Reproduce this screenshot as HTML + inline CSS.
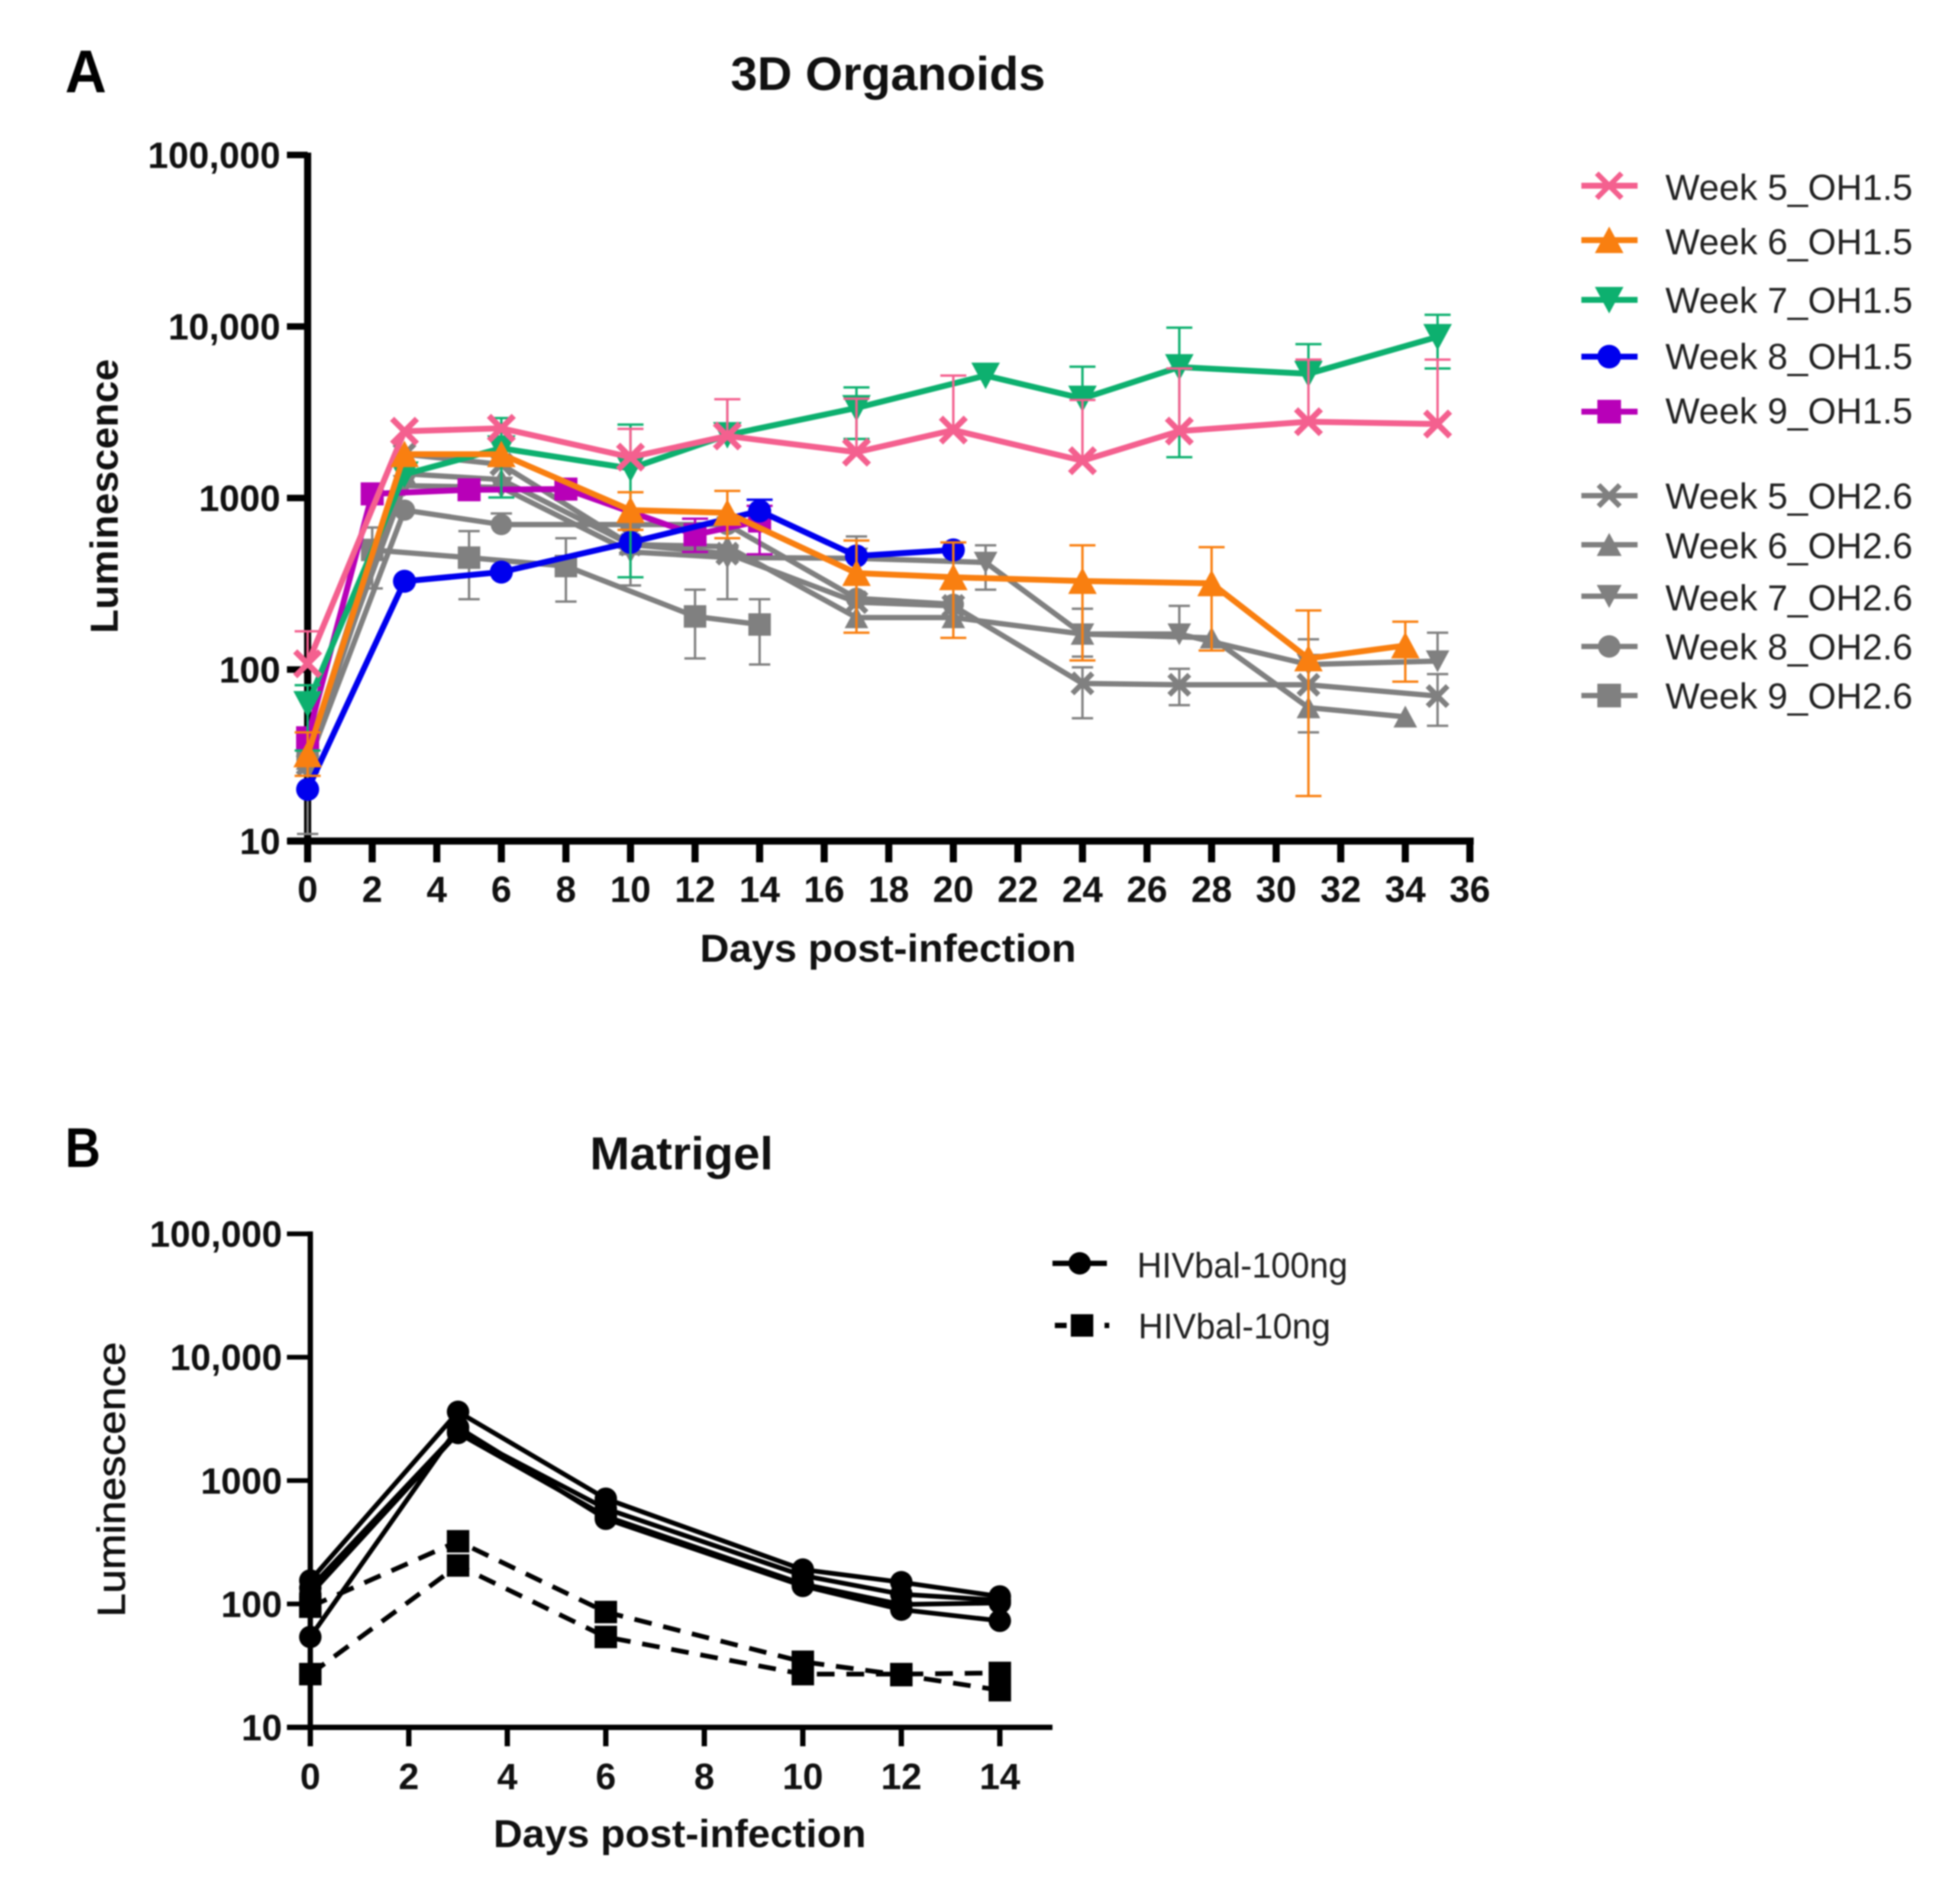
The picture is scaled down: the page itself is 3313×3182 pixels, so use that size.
<!DOCTYPE html>
<html lang="en">
<head>
<meta charset="utf-8">
<title>3D Organoids and Matrigel luminescence charts</title>
<style>
html,body{margin:0;padding:0;background:#fff;width:3313px;height:3182px;overflow:hidden}
svg{display:block;filter:blur(1.4px)}
text{font-family:"Liberation Sans",Arial,sans-serif}
</style>
</head>
<body>
<svg id="figure" xmlns="http://www.w3.org/2000/svg" width="3313" height="3182" viewBox="0 0 3313 3182">
  <rect width="3313" height="3182" fill="#fff"/>
  <text x="110" y="156" font-size="102" font-weight="700" fill="#000" textLength="70" lengthAdjust="spacingAndGlyphs">A</text>
  <text x="1235" y="152" font-size="80" font-weight="700" fill="#111" textLength="532" lengthAdjust="spacingAndGlyphs">3D Organoids</text>
  <text transform="translate(199,1071) rotate(-90)" font-size="66" font-weight="700" fill="#111" textLength="464" lengthAdjust="spacingAndGlyphs">Luminescence</text>
  <text x="1183" y="1626" font-size="66" font-weight="700" fill="#111" textLength="636" lengthAdjust="spacingAndGlyphs">Days post-infection</text>
  <text x="110" y="1973" font-size="95" font-weight="700" fill="#000" textLength="60" lengthAdjust="spacingAndGlyphs">B</text>
  <text x="997" y="1977" font-size="78" font-weight="700" fill="#111" textLength="310" lengthAdjust="spacingAndGlyphs">Matrigel</text>
  <text transform="translate(211,2734) rotate(-90)" font-size="66" fill="#111" stroke="#111" stroke-width="1" textLength="465" lengthAdjust="spacingAndGlyphs">Luminescence</text>
  <text x="834" y="3123" font-size="66" font-weight="700" fill="#111" textLength="630" lengthAdjust="spacingAndGlyphs">Days post-infection</text>
  <g id="chart-a"></g>
  <g id="chart-b"></g>
</svg>
<script>
/* ---------- Panel A data ---------- */
const xTicksA = [0,2,4,6,8,10,12,14,16,18,20,22,24,26,28,30,32,34,36];
const yTicksValues = [10,100,1000,10000,100000];
const yTickLabels = ['10','100','1000','10,000','100,000'];

const w5o15Days  = [0,3,6,10,13,17,20,24,27,31,35];
const w5o15Vals  = [108,2450,2550,1730,2300,1850,2490,1650,2455,2785,2700];
const w5o15Upper = [167,null,null,2530,3767,3793,5175,3730,5690,6410,6410];
const w5o15Lower = [null,null,null,null,null,null,null,null,null,null,null];

const w6o15Days  = [0,3,6,10,13,17,20,24,28,31,34];
const w6o15Vals  = [32,1800,1800,850,820,365,345,328,318,116,138];
const w6o15Upper = [43,null,null,1081,1100,565,551,530,517,221,190];
const w6o15Lower = [24,null,null,652,583,164,153,113,129,18.3,85];

const w7o15Days  = [0,3,6,10,13,17,21,24,27,31,35];
const w7o15Vals  = [63,1374,1950,1486,2330,3350,5175,3800,5800,5300,8700];
const w7o15Upper = [81,null,2924,2680,3767,4415,null,5830,9840,7890,11700];
const w7o15Lower = [33.7,null,1007,345,null,2210,null,null,1730,null,5690];

const w8o15Days  = [0,3,6,10,14,17,20];
const w8o15Vals  = [20,327,370,551,840,459,498];
const w8o15Upper = [null,null,null,null,977,null,null];
const w8o15Lower = [null,null,null,null,null,null,null];

const w9o15Days  = [0,2,5,8,12,14];
const w9o15Vals  = [40,1057,1117,1127,611,734];
const w9o15Upper = [null,null,null,null,757,900];
const w9o15Lower = [null,null,null,null,485,470];

const w5o26Days  = [0,3,6,10,13,17,20,24,27,31,35];
const w5o26Vals  = [28,1800,1570,535,474,247,235,83,81.5,81.5,70];
const w5o26Upper = [null,null,null,null,769,null,null,103,101,150,94];
const w5o26Lower = [null,null,null,null,257,null,null,52,62,43,47];

const w6o26Days  = [0,3,6,10,13,17,20,24,28,31,34];
const w6o26Vals  = [30,1384,1280,535,521,201,201,161,153,60,53];
const w6o26Upper = [null,null,null,null,null,null,null,226,null,null,null];
const w6o26Lower = [11,null,null,null,null,null,null,119,null,null,null];

const w7o26Days  = [0,3,6,10,13,17,21,24,27,31,35];
const w7o26Vals  = [35,1180,1153,485,450,445,421,161,161,107,112];
const w7o26Upper = [null,null,null,null,null,null,530,null,235,null,164];
const w7o26Lower = [null,null,null,309,null,null,292,null,null,null,null];

const w8o26Days  = [0,3,6,10,13,17,20];
const w8o26Vals  = [28,850,700,700,700,260,240];
const w8o26Upper = [null,null,813,null,null,597,null];
const w8o26Lower = [null,null,null,null,null,null,null];

const w9o26Days  = [0,2,5,8,12,14];
const w9o26Vals  = [32,498,449,401,204,183];
const w9o26Upper = [null,673,641,583,292,257];
const w9o26Lower = [null,297,257,249,116,107];

const legendLabelsA = ['Week 5_OH1.5','Week 6_OH1.5','Week 7_OH1.5','Week 8_OH1.5','Week 9_OH1.5','Week 5_OH2.6','Week 6_OH2.6','Week 7_OH2.6','Week 8_OH2.6','Week 9_OH2.6'];

/* ---------- Panel B data ---------- */
const xTicksB = [0,2,4,6,8,10,12,14];
const matrigelDays = [0,3,6,10,12,14];
const hi100ngRep1 = [155,3610,713,190,150,115];
const hi100ngRep2 = [135,2500,592,170,120,107];
const hi100ngRep3 = [120,2430,513,145,99,102];
const hi100ngRep4 = [54,2700,490,140,90,73];
const hi10ngRep1  = [95,322,86,34,26.5,20];
const hi10ngRep2  = [27,205,54,27,27,27.6];
const legendLabelsB = ['HIVbal-100ng','HIVbal-10ng'];

/* ---------- Axis functions ---------- */
function xA(d){ return 520 + 54.57 * d; }
function yA(v){ return 1422 - 290 * (Math.log10(v) - 1); }
function xB(d){ return 524.5 + 83.25 * d; }
function yB(v){ return 2920.5 - 208.6 * (Math.log10(v) - 1); }

const NS = 'http://www.w3.org/2000/svg';
function mk(tag, attrs, parent){
  const el = document.createElementNS(NS, tag);
  for (const k in attrs) el.setAttribute(k, attrs[k]);
  parent.appendChild(el);
  return el;
}

function drawMarker(parent, shape, cx, cy, r, color, sw){
  let el;
  if (shape === 'x'){
    el = mk('path', {d:`M${cx-r} ${cy-r}L${cx+r} ${cy+r}M${cx-r} ${cy+r}L${cx+r} ${cy-r}`, stroke:color, 'stroke-width':sw, fill:'none'}, parent);
  } else if (shape === 'up'){
    el = mk('polygon', {points:`${cx},${cy-r} ${cx+r*1.05},${cy+r*0.95} ${cx-r*1.05},${cy+r*0.95}`, fill:color}, parent);
  } else if (shape === 'down'){
    el = mk('polygon', {points:`${cx},${cy+r} ${cx+r*1.05},${cy-r*0.95} ${cx-r*1.05},${cy-r*0.95}`, fill:color}, parent);
  } else if (shape === 'circle'){
    el = mk('circle', {cx:cx, cy:cy, r:r, fill:color}, parent);
  } else {
    el = mk('rect', {x:cx-r, y:cy-r, width:2*r, height:2*r, fill:color}, parent);
  }
  
  
  return el;
}

function drawAxes(root, cfg){
  const axisX = mk('line', {x1:cfg.xLeft, x2:cfg.xRight, y1:cfg.yAxis, y2:cfg.yAxis, stroke:'#000', 'stroke-width':cfg.sw}, root);
  
  
  const axisY = mk('line', {x1:cfg.xAxis, x2:cfg.xAxis, y1:cfg.yTop, y2:cfg.yAxis + cfg.xTickLen, stroke:'#000', 'stroke-width':cfg.sw}, root);
  
  
  cfg.xTicks.forEach(function(d){
    const t = mk('line', {x1:cfg.x(d), x2:cfg.x(d), y1:cfg.yAxis, y2:cfg.yAxis + cfg.xTickLen, stroke:'#000', 'stroke-width':cfg.tickSw}, root);
    
    
    const l = mk('text', {x:cfg.x(d), y:cfg.xLabelY, 'font-size':62, 'font-weight':700, 'text-anchor':'middle', fill:'#111'}, root);
    l.textContent = String(d);
    
    
  });
  yTicksValues.forEach(function(v, i){
    const t = mk('line', {x1:cfg.yTickLeft, x2:cfg.xAxis, y1:cfg.y(v), y2:cfg.y(v), stroke:'#000', 'stroke-width':cfg.tickSwY}, root);
    
    
    const l = mk('text', {x:cfg.yLabelX, y:cfg.y(v) + 22, 'font-size':62, 'font-weight':700, 'text-anchor':'end', fill:'#111'}, root);
    l.textContent = yTickLabels[i];
    
    
  });
}

/* ---------- Draw panel A ---------- */
const PINK='#F4608F', ORANGE='#F97F10', GREEN='#0DB06F', BLUE='#0000EE', MAGENTA='#B800B8', GRAY='#808080';
const seriesA = [
  {days:w9o26Days,vals:w9o26Vals,up:w9o26Upper,lo:w9o26Lower,color:GRAY,shape:'square',r:19,lw:9,gray:true},
  {days:w8o26Days,vals:w8o26Vals,up:w8o26Upper,lo:w8o26Lower,color:GRAY,shape:'circle',r:18,lw:9,gray:true},
  {days:w7o26Days,vals:w7o26Vals,up:w7o26Upper,lo:w7o26Lower,color:GRAY,shape:'down',r:19,lw:9,gray:true},
  {days:w6o26Days,vals:w6o26Vals,up:w6o26Upper,lo:w6o26Lower,color:GRAY,shape:'up',r:19,lw:9,gray:true},
  {days:w5o26Days,vals:w5o26Vals,up:w5o26Upper,lo:w5o26Lower,color:GRAY,shape:'x',r:17,lw:9,gray:true},
  {days:w9o15Days,vals:w9o15Vals,up:w9o15Upper,lo:w9o15Lower,color:MAGENTA,shape:'square',r:19.5,lw:10},
  {days:w8o15Days,vals:w8o15Vals,up:w8o15Upper,lo:w8o15Lower,color:BLUE,shape:'circle',r:19.5,lw:10},
  {days:w7o15Days,vals:w7o15Vals,up:w7o15Upper,lo:w7o15Lower,color:GREEN,shape:'down',r:23,lw:10},
  {days:w5o15Days,vals:w5o15Vals,up:w5o15Upper,lo:w5o15Lower,color:PINK,shape:'x',r:21,lw:10},
  {days:w6o15Days,vals:w6o15Vals,up:w6o15Upper,lo:w6o15Lower,color:ORANGE,shape:'up',r:23,lw:10}
];
const chartA = document.getElementById('chart-a');
drawAxes(chartA, {x:xA,y:yA,xTicks:xTicksA,xLeft:486,xRight:2491,yAxis:1422,xAxis:520,yTop:258,sw:12,xTickLen:36,tickSw:12,tickSwY:11,xLabelY:1525,yTickLeft:485,yLabelX:474});

seriesA.forEach(function(s){
  const g = mk('g', {}, chartA);
  
  
  const cap = s.gray ? 18 : 22;
  s.days.forEach(function(d, i){
    [s.up[i], s.lo[i]].forEach(function(e){
      if (e === null) return;
      const v = mk('line', {x1:xA(d), x2:xA(d), y1:yA(s.vals[i]), y2:yA(e), stroke:s.color, 'stroke-width':4}, g);
      
      
      const c = mk('line', {x1:xA(d)-cap, x2:xA(d)+cap, y1:yA(e), y2:yA(e), stroke:s.color, 'stroke-width':4}, g);
      
      
    });
  });
  const pts = s.days.map(function(d, i){ return xA(d) + ',' + yA(s.vals[i]); }).join(' ');
  const line = mk('polyline', {points:pts, fill:'none', stroke:s.color, 'stroke-width':s.lw, 'stroke-linejoin':'miter'}, g);
  
  
  s.days.forEach(function(d, i){
    drawMarker(g, s.shape, xA(d), yA(s.vals[i]), s.r, s.color, s.gray ? 9 : 10);
  });
});

/* legend A */
const legendYA = [314,406,507,603,696,838,921,1008,1093,1176];
const legendTextYA = [338,430,529,624,716,860,944,1032,1115,1198];
const legendStyleA = [[PINK,'x',21],[ORANGE,'up',23],[GREEN,'down',23],[BLUE,'circle',20],[MAGENTA,'square',20],[GRAY,'x',18],[GRAY,'up',20],[GRAY,'down',20],[GRAY,'circle',19],[GRAY,'square',20]];
legendLabelsA.forEach(function(label, i){
  const g = mk('g', {}, chartA);
  
  
  const st = legendStyleA[i];
  const sample = mk('line', {x1:2673, x2:2768, y1:legendYA[i], y2:legendYA[i], stroke:st[0], 'stroke-width':i < 5 ? 10 : 9}, g);
  
  
  drawMarker(g, st[1], 2720, legendYA[i], st[2], st[0], 9);
  const t = mk('text', {x:2815, y:legendTextYA[i], 'font-size':61, fill:'#222', textLength:418, lengthAdjust:'spacingAndGlyphs'}, g);
  t.textContent = label;
  
  
});

/* ---------- Draw panel B ---------- */
const seriesB = [
  {vals:hi100ngRep1,shape:'circle',dash:null},
  {vals:hi100ngRep2,shape:'circle',dash:null},
  {vals:hi100ngRep3,shape:'circle',dash:null},
  {vals:hi100ngRep4,shape:'circle',dash:null},
  {vals:hi10ngRep1,shape:'square',dash:'30 20'},
  {vals:hi10ngRep2,shape:'square',dash:'30 20'}
];
const chartB = document.getElementById('chart-b');
drawAxes(chartB, {x:xB,y:yB,xTicks:xTicksB,xLeft:485,xRight:1779,yAxis:2920.5,xAxis:524.5,yTop:2082,sw:9,xTickLen:32,tickSw:9,tickSwY:8,xLabelY:3025,yTickLeft:485,yLabelX:477});

seriesB.forEach(function(s){
  const g = mk('g', {}, chartB);
  
  
  const pts = matrigelDays.map(function(d, i){ return xB(d) + ',' + yB(s.vals[i]); }).join(' ');
  const line = mk('polyline', {points:pts, fill:'none', stroke:'#000', 'stroke-width':8}, g);
  if (s.dash) line.setAttribute('stroke-dasharray', s.dash);
  
  
  matrigelDays.forEach(function(d, i){
    drawMarker(g, s.shape, xB(d), yB(s.vals[i]), 19, '#000', 8);
  });
});

/* legend B */
const legendYB = [2136,2241];
const legendTextYB = [2160,2263];
const legendTextLenB = [356,325];
const legendTextXB = [1922,1924];
legendLabelsB.forEach(function(label, i){
  const g = mk('g', {}, chartB);
  
  
  const sample = mk('line', {x1:i ? 1783 : 1779, x2:i ? 1875 : 1871, y1:legendYB[i], y2:legendYB[i], stroke:'#000', 'stroke-width':9}, g);
  if (i === 1) sample.setAttribute('stroke-dasharray', '20 64 8');
  
  
  drawMarker(g, i ? 'square' : 'circle', i ? 1829 : 1825, legendYB[i], 19, '#000', 8);
  const t = mk('text', {x:legendTextXB[i], y:legendTextYB[i], 'font-size':60, fill:'#222', textLength:legendTextLenB[i], lengthAdjust:'spacingAndGlyphs'}, g);
  t.textContent = label;
  
  
});
</script>
</body>
</html>
